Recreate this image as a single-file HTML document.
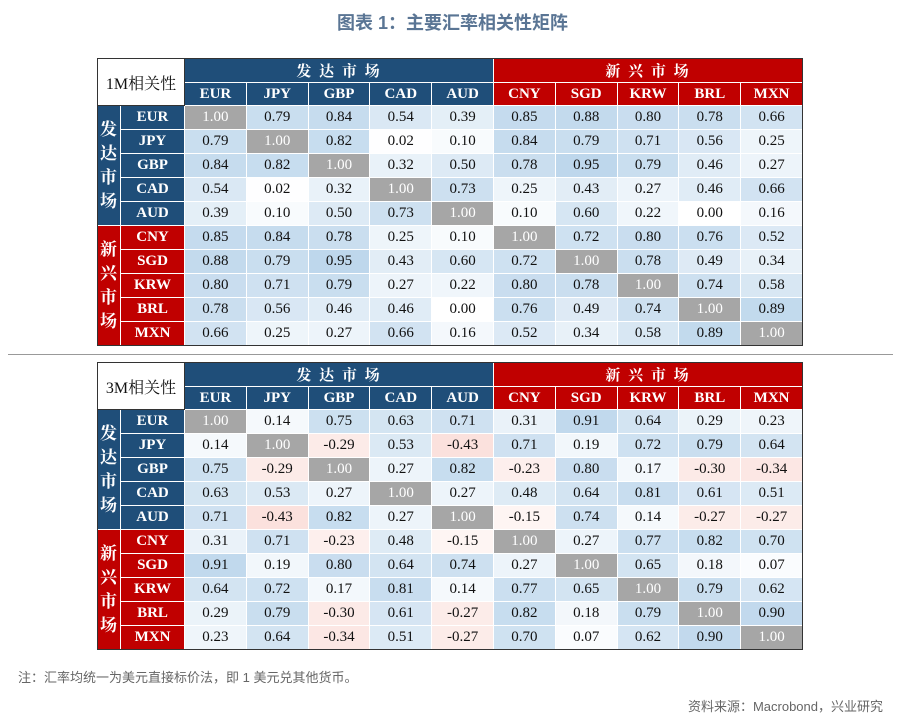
<!DOCTYPE html>
<html><head><meta charset="utf-8">
<style>
body{margin:0;width:905px;height:724px;background:#fff;position:relative;overflow:hidden;font-family:"Liberation Serif","Noto Serif CJK SC",serif}
.c{position:absolute;box-sizing:border-box;display:flex;align-items:center;justify-content:center;border-right:1px solid #fff;border-bottom:1px solid #fff;font-size:15px;color:#111}
.h{color:#fff;font-weight:bold;font-size:15px}
.t{position:absolute;font-family:"Liberation Sans","Noto Sans CJK SC",sans-serif}
</style></head><body>
<div class="t" style="left:0;width:905px;top:9px;text-align:center;font-size:18px;font-weight:bold;color:#5a7594">图表 1：主要汇率相关性矩阵</div>
<div id="wrap"></div>
<div style="position:absolute;left:8px;top:354px;width:885px;height:1px;background:#999"></div>
<div class="t" style="left:18px;top:667px;font-size:13px;color:#666">注：汇率均统一为美元直接标价法，即 1 美元兑其他货币。</div>
<div class="t" style="right:22px;top:696px;font-size:13px;color:#666">资料来源：Macrobond，兴业研究</div>
<script>
const currencies=["EUR","JPY","GBP","CAD","AUD","CNY","SGD","KRW","BRL","MXN"];
const groupLabels=["发达市场","新兴市场"];
const corr1M=[
[1.00,0.79,0.84,0.54,0.39,0.85,0.88,0.80,0.78,0.66],
[0.79,1.00,0.82,0.02,0.10,0.84,0.79,0.71,0.56,0.25],
[0.84,0.82,1.00,0.32,0.50,0.78,0.95,0.79,0.46,0.27],
[0.54,0.02,0.32,1.00,0.73,0.25,0.43,0.27,0.46,0.66],
[0.39,0.10,0.50,0.73,1.00,0.10,0.60,0.22,0.00,0.16],
[0.85,0.84,0.78,0.25,0.10,1.00,0.72,0.80,0.76,0.52],
[0.88,0.79,0.95,0.43,0.60,0.72,1.00,0.78,0.49,0.34],
[0.80,0.71,0.79,0.27,0.22,0.80,0.78,1.00,0.74,0.58],
[0.78,0.56,0.46,0.46,0.00,0.76,0.49,0.74,1.00,0.89],
[0.66,0.25,0.27,0.66,0.16,0.52,0.34,0.58,0.89,1.00]];
const corr3M=[
[1.00,0.14,0.75,0.63,0.71,0.31,0.91,0.64,0.29,0.23],
[0.14,1.00,-0.29,0.53,-0.43,0.71,0.19,0.72,0.79,0.64],
[0.75,-0.29,1.00,0.27,0.82,-0.23,0.80,0.17,-0.30,-0.34],
[0.63,0.53,0.27,1.00,0.27,0.48,0.64,0.81,0.61,0.51],
[0.71,-0.43,0.82,0.27,1.00,-0.15,0.74,0.14,-0.27,-0.27],
[0.31,0.71,-0.23,0.48,-0.15,1.00,0.27,0.77,0.82,0.70],
[0.91,0.19,0.80,0.64,0.74,0.27,1.00,0.65,0.18,0.07],
[0.64,0.72,0.17,0.81,0.14,0.77,0.65,1.00,0.79,0.62],
[0.29,0.79,-0.30,0.61,-0.27,0.82,0.18,0.79,1.00,0.90],
[0.23,0.64,-0.34,0.51,-0.27,0.70,0.07,0.62,0.90,1.00]];
const tableTitles=["1M相关性","3M相关性"];

const X0=97,X1=121,X2=185,CW=61.8,RH=24,BLUE="#1f4e79",RED="#c00000";
const colX=i=>X2+i*CW;
function color(v,i,j){
  if(i===j) return "#a6a6a6";
  if(v>=0){const t=Math.min(v,1);return `rgb(${Math.round(255-t*68)},${Math.round(255-t*42)},${Math.round(255-t*20)})`;}
  const t=Math.min(-v,1);return `rgb(${Math.round(255-t*10)},${Math.round(255-t*70)},${Math.round(255-t*80)})`;
}
const wrap=document.getElementById('wrap');
function cell(x,y,w,h,bg,txt,cls,name){
  const d=document.createElement('div');d.className='c '+(cls||'');
  
  
  d.style.cssText+=`left:${x}px;top:${y}px;width:${w}px;height:${h}px;background:${bg}`;
  d.textContent=txt;wrap.appendChild(d);return d;
}
function table(top,data,title){
  const h1=top,h2=top+25,d0=top+48,pre=title.slice(0,2).toLowerCase();
  const tl=cell(X0,h1,X2-X0,48,"#fff",title,"",pre+"-title-cell");
  tl.style.border="1px solid #333";tl.style.fontSize="16px";
  cell(X2,h1,CW*5,25,BLUE,"发 达 市 场","h",pre+"-developed-header").style.letterSpacing="2px";
  cell(X2+CW*5,h1,CW*5,25,RED,"新 兴 市 场","h",pre+"-emerging-header").style.letterSpacing="2px";
  currencies.forEach((c,j)=>cell(colX(j),h2,CW,23,j<5?BLUE:RED,c,"h",pre+"-col-"+c.toLowerCase()));
  const g1=cell(X0,d0,X1-X0,RH*5,BLUE,"","h",pre+"-developed-row-group");
  g1.innerHTML="发<br>达<br>市<br>场";g1.style.lineHeight="24px";g1.style.fontSize="17px";
  const g2=cell(X0,d0+RH*5,X1-X0,RH*5,RED,"","h",pre+"-emerging-row-group");
  g2.innerHTML="新<br>兴<br>市<br>场";g2.style.lineHeight="24px";g2.style.fontSize="17px";
  currencies.forEach((c,i)=>{
    cell(X1,d0+i*RH,X2-X1,RH,i<5?BLUE:RED,c,"h",pre+"-row-"+c.toLowerCase());
    data[i].forEach((v,j)=>{
      const d=cell(colX(j),d0+i*RH,CW,RH,color(v,i,j),v.toFixed(2),"",pre+"-cell-"+c.toLowerCase()+"-"+currencies[j].toLowerCase());
      if(i===j)d.style.color="#fff";
    });
  });
  const b=document.createElement('div');
  
  
  b.style.cssText=`position:absolute;left:${X0}px;top:${h1}px;width:${X2+CW*10-X0}px;height:${48+RH*10}px;border:1px solid #333;box-sizing:border-box;pointer-events:none`;
  wrap.appendChild(b);
}
table(58,corr1M,tableTitles[0]);
table(362,corr3M,tableTitles[1]);
</script>
</body></html>
